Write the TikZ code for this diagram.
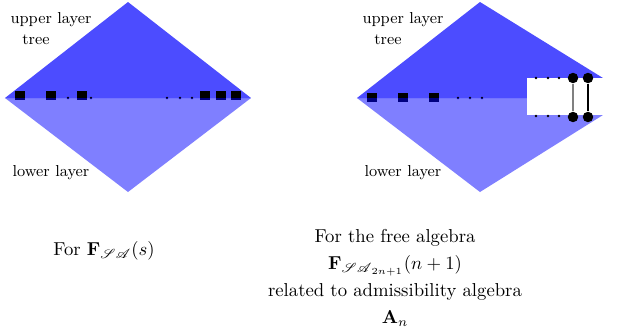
\documentclass[tikz,border=0pt]{standalone}
\usepackage{amsmath}
\usepackage{mathrsfs}
\tikzset{
  upperlayer/.style={fill=blue,fill opacity=0.7,draw=none},
  lowerlayer/.style={fill=blue,fill opacity=0.5,draw=none},
  sq/.style={fill=black,inner sep=0pt,minimum size=5.3pt},
  smalldot/.style={circle,fill=black,inner sep=0pt,minimum size=1.4pt},
  bigdot/.style={circle,fill=black,inner sep=0pt,minimum size=5.6pt},
  lbl/.style={font=\fontsize{8.5}{10}\selectfont}
}
\begin{document}
\begin{tikzpicture}[x=0.0188cm,y=-0.0188cm]
\useasboundingbox (0,0) rectangle (633,331);
% left picture
\fill[upperlayer] (5,98) -- (128,2) -- (251,98) -- cycle;
\foreach \x [count=\i] in {20,51,82,205,221,236}
  \node[sq] (ls\i) at (\x,95.5) {};
\foreach \x [count=\i] in {68,91,167,180,192}
  \node[smalldot] (ld\i) at (\x,98) {};
\fill[lowerlayer] (5,98) -- (251,98) -- (128,192) -- cycle;
\node[lbl] (lup) at (51,20) {upper layer};
\node[lbl] (ltree) at (36,40) {tree};
\node[lbl] (llow) at (51,173) {lower layer};
\node (ltext) at (104,251) {For $\mathbf{F}_{\mathscr{SA}}(s)$};
% right picture
\fill[upperlayer] (357,98) -- (480,2) -- (603,78) -- (603,98) -- cycle;
\foreach \x [count=\i] in {372,403,434}
  \node[sq] (rs\i) at (\x,97.5) {};
\foreach \x [count=\i] in {458,470,482}
  \node[smalldot] (rd\i) at (\x,98) {};
\fill[lowerlayer] (357,98) -- (603,98) -- (603,115) -- (480,192) -- cycle;
\fill[white] (527,78) rectangle (603,115);
\foreach \x [count=\i] in {536,548,559} {
  \node[smalldot] (tu\i) at (\x,78) {};
  \node[smalldot] (tl\i) at (\x,116) {};
}
\node[bigdot] (cu1) at (573,78) {};
\node[bigdot] (cu2) at (588,78) {};
\node[bigdot] (cl1) at (573,117) {};
\node[bigdot] (cl2) at (588,117) {};
\draw[gray,line width=0.6pt] (cu1) -- (cl1);
\draw[black,line width=0.6pt] (cu2) -- (cl2);
\node[lbl] (rup) at (403,20) {upper layer};
\node[lbl] (rtree) at (388,40) {tree};
\node[lbl] (rlow) at (403,173) {lower layer};
\node[align=center] (rtext) at (395,278) {For the free algebra\\[2.5pt]
  $\mathbf{F}_{\mathscr{SA}_{2n+1}}(n+1)$\\[2.5pt]
  related to admissibility algebra\\[2.5pt]
  $\mathbf{A}_n$};
\end{tikzpicture}
\end{document}
